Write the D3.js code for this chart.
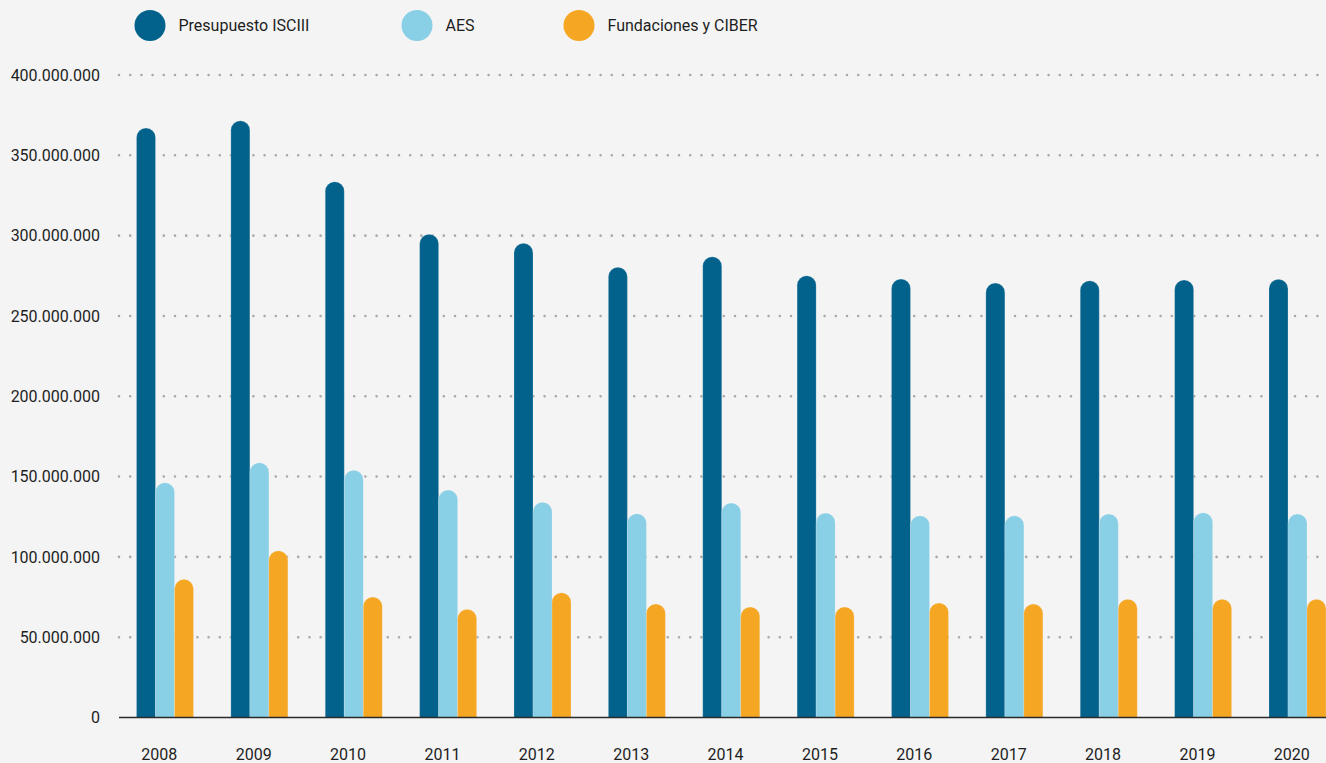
<!DOCTYPE html>
<html>
<head>
<meta charset="utf-8">
<script src="https://cdn.jsdelivr.net/npm/d3@7"></script>
<style>
  html, body { margin: 0; padding: 0; background: #f4f4f4; overflow: hidden; }
  svg { display: block; font-family: Roboto, "Noto Sans", sans-serif; }
  .tick-label { font-size: 16px; fill: #1e1e1e; }
  .legend-label { font-size: 16px; fill: #1e1e1e; }
</style>
</head>
<body>
<svg id="chart"></svg>
<script>
// data
const years = ['2008', '2009', '2010', '2011', '2012', '2013', '2014', '2015', '2016', '2017', '2018', '2019', '2020'];
const seriesNames = ['Presupuesto ISCIII', 'AES', 'Fundaciones y CIBER'];
const presupuesto = [367000000, 371500000, 333600000, 300800000, 295200000, 280300000, 286900000, 275000000, 273000000, 270500000, 271900000, 272400000, 272800000];
const aes = [146200000, 158600000, 154000000, 141600000, 134000000, 126900000, 133500000, 127300000, 125600000, 125600000, 126700000, 127500000, 126700000];
const fundaciones = [86000000, 103800000, 75000000, 67400000, 77700000, 70700000, 68800000, 68800000, 71300000, 70700000, 73600000, 73600000, 73600000];
const yTicks = [0, 50000000, 100000000, 150000000, 200000000, 250000000, 300000000, 350000000, 400000000];
const colors = ['#03628c', '#89cfe5', '#f5a623'];

const W = 1326, H = 763;
const svg = d3.select('#chart').attr('width', W).attr('height', H);

const fmt = d3.formatLocale({decimal: ',', thousands: '.', grouping: [3], currency: ['', '€']}).format(',');

const y = d3.scaleLinear().domain([0, 400000000]).range([717.5, 75]);
const x = d3.scaleBand().domain(years).range([136.5, 1326]).paddingInner(0.396).paddingOuter(0);
const xs = d3.scaleBand().domain(seriesNames).range([0, x.bandwidth()]);

// gridlines (dotted)
svg.append('g').selectAll('line')
  .data(yTicks.filter(d => d > 0))
  .join('line')
  .attr('x1', 119).attr('x2', W)
  .attr('y1', d => y(d)).attr('y2', d => y(d))
  .attr('stroke', '#a8a8a8')
  .attr('stroke-width', 2.6)
  .attr('stroke-linecap', 'round')
  .attr('stroke-dasharray', '0 11.2');

// y labels
svg.append('g').selectAll('text')
  .data(yTicks)
  .join('text')
  .attr('class', 'tick-label')
  .attr('x', 100)
  .attr('y', d => y(d))
  .attr('dy', '0.36em')
  .attr('text-anchor', 'end')
  .text(d => fmt(d));

// bars with round tops
const table = years.map((yr, i) => ({year: yr, vals: [presupuesto[i], aes[i], fundaciones[i]]}));
const barPath = (x0, w, v) => {
  const r = w / 2, y0 = y(0), yt = y(v);
  return `M${x0},${y0}V${yt + r}A${r},${r} 0 0 1 ${x0 + w},${yt + r}V${y0}Z`;
};
const groups = svg.append('g').selectAll('g')
  .data(table)
  .join('g')
  .attr('transform', d => `translate(${x(d.year)},0)`);
groups.selectAll('path')
  .data(d => d.vals.map((v, j) => ({name: seriesNames[j], v, j})))
  .join('path')
  .attr('d', d => barPath(xs(d.name), xs.bandwidth(), d.v))
  .attr('fill', d => colors[d.j])
  .attr('stroke', '#f4f4f4')
  .attr('stroke-opacity', 0.35)
  .attr('stroke-width', 0.6);

// baseline
svg.append('line')
  .attr('x1', 119).attr('x2', W)
  .attr('y1', y(0)).attr('y2', y(0))
  .attr('stroke', '#2a2a2a').attr('stroke-width', 1.5);

// x labels
svg.append('g').selectAll('text')
  .data(years)
  .join('text')
  .attr('class', 'tick-label')
  .attr('x', d => x(d) + x.bandwidth() * 0.4)
  .attr('y', 760)
  .attr('text-anchor', 'middle')
  .text(d => d);

// legend
const legendX = [150, 417, 579];
const legend = svg.append('g').selectAll('g')
  .data(seriesNames)
  .join('g')
  .attr('transform', (d, i) => `translate(${legendX[i]},25.5)`);
legend.append('circle').attr('r', 15.5).attr('fill', (d, i) => colors[i]);
legend.append('text')
  .attr('class', 'legend-label')
  .attr('x', 28.5)
  .attr('dy', '0.36em')
  .text(d => d);
</script>
</body>
</html>
